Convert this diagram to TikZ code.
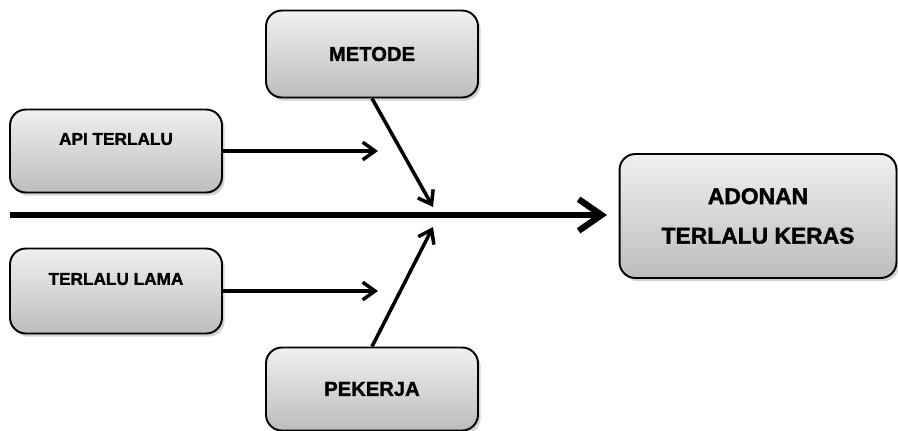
\documentclass[tikz,border=0pt]{standalone}
\usepackage{fontspec}
\setmainfont{Liberation Sans}[BoldFeatures={FakeBold=1.5}]
\usetikzlibrary{arrows.meta,shadows}

\begin{document}
\begin{tikzpicture}[x=0.02cm,y=-0.02cm,
	box/.style={draw=black, line width=1.1pt, rounded corners=9pt,
		top color=black!6, bottom color=black!26,
		drop shadow={shadow xshift=1.5pt, shadow yshift=-1.8pt, opacity=0.35},
		align=center, inner sep=0pt, minimum width=4.24cm},
	sidebox/.style={box, font=\fontsize{9.8}{11}\selectfont\bfseries,
		text height=7pt, text depth=14pt},
	topbox/.style={box, font=\fontsize{11.5}{13}\selectfont\bfseries},
	arr/.style={-{Straight Barb[length=7pt,width=10pt]}, line width=2pt},
	mainarr/.style={-{Straight Barb[length=13pt,width=18pt]}, line width=3.6pt}
]

\useasboundingbox (0,0) rectangle (898,430);

% causes
\node[sidebox, minimum height=1.66cm] (api) at (116,151) {API TERLALU};
\node[sidebox, minimum height=1.7cm] (lama) at (116,291) {TERLALU LAMA};
\node[topbox, minimum height=1.74cm] (metode) at (372,54) {METODE};
\node[topbox, minimum height=1.66cm] (pekerja) at (372,389) {PEKERJA};

% effect
\node[box, minimum width=5.54cm, minimum height=2.48cm,
	font=\fontsize{13}{22.5}\selectfont\bfseries] (adonan) at (758,216)
	{ADONAN\\TERLALU KERAS};

\coordinate (tail) at (10,215);
\coordinate (head) at (607,215);
\coordinate (apitip) at (378,151);
\coordinate (lamatip) at (378,291);
\coordinate (metodetip) at (433,207);
\coordinate (pekerjatip) at (433,227);

\draw[mainarr] (tail)--(head);
\draw[arr] (api.east)--(apitip);
\draw[arr] (lama.east)--(lamatip);
\draw[arr] (metode.south)--(metodetip);
\draw[arr] (pekerja.north)--(pekerjatip);

\end{tikzpicture}
\end{document}
